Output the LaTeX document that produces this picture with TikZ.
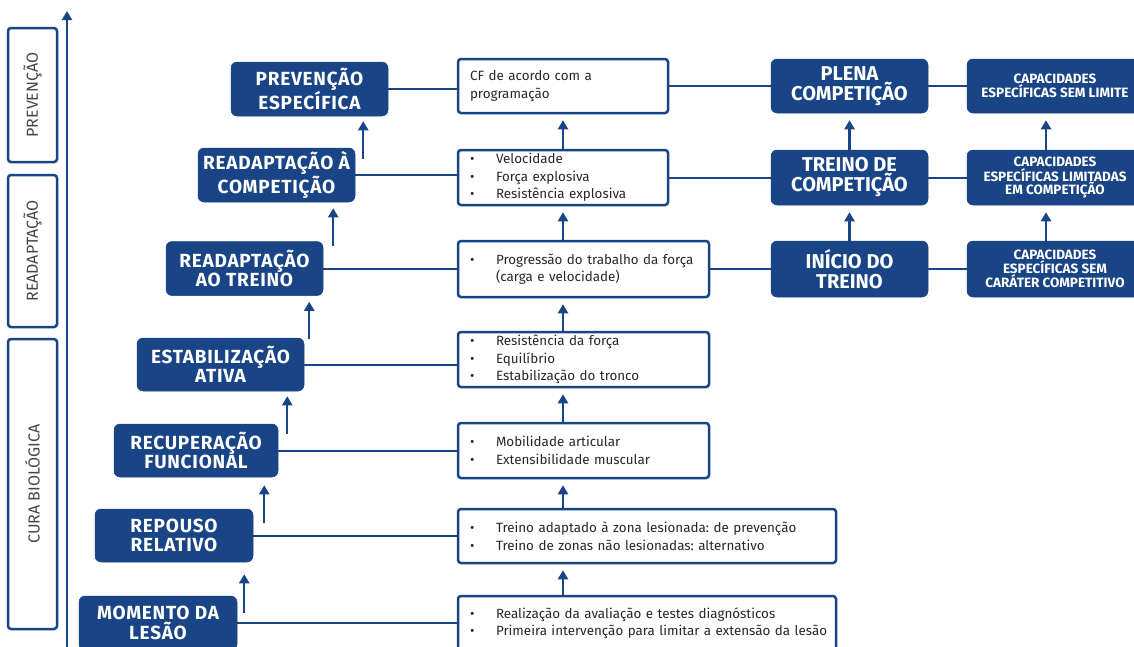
\documentclass[tikz,border=0pt]{standalone}
\usepackage{fontspec}
\setmainfont{Fira Sans}
\newfontfamily\boxfont[LetterSpace=4]{Fira Sans}
\newfontfamily\rightfont{Fira Sans}
\newfontfamily\capfont{Fira Sans}
\usetikzlibrary{arrows.meta,calc}
\definecolor{nblue}{RGB}{25,68,133}
\definecolor{tgray}{RGB}{40,40,40}
\definecolor{lgray}{RGB}{70,70,70}
\newcommand\bl[1]{\mbox{\makebox[26pt][l]{\textbullet}#1}}
\frenchspacing
\begin{document}
\begin{tikzpicture}[x=1pt,y=-1pt,
  bbox/.style={draw=nblue, fill=nblue, rounded corners=6pt, text=white, align=center,
    inner sep=0pt, line width=0.5pt, font=\boxfont\fontsize{19}{19.5}\selectfont\bfseries},
  rbox/.style={bbox, font=\rightfont\fontsize{20}{20}\selectfont\bfseries},
  cbox/.style={bbox, font=\capfont\fontsize{13.5}{13}\selectfont\bfseries},
  wbox/.style={draw=nblue, fill=white, rounded corners=3pt, line width=2.5pt, align=left,
    inner xsep=12pt, inner ysep=0pt, text=tgray, font=\fontsize{13.4}{17.5}\selectfont},
  lbox/.style={draw=nblue, rounded corners=3pt, line width=2.5pt, rotate=90, inner sep=0pt,
    text=lgray, font=\fontsize{16}{16}\selectfont, minimum height=49pt},
  conn/.style={draw=nblue, line width=2pt},
  arr/.style={draw=nblue, line width=2.4pt, -{Triangle[length=9pt,width=10pt]}}
]
\clip (0,0) rectangle (1134,646);
\fill[white] (0,0) rectangle (1134,646);

% side labels and axis
\node[lbox, minimum width=134pt] (L1) at (32.5,95) {PREVENÇÃO};
\node[lbox, minimum width=152pt] (L2) at (32.5,251) {READAPTAÇÃO};
\node[lbox, minimum width=290pt] (L3) at (32.5,484) {CURA BIOLÓGICA};
\coordinate (ax0) at (67,660);
\coordinate (ax1) at (67,11);
\draw[arr, line width=2pt] (ax0) -- (ax1);

% left stepped blue boxes
\node[bbox, minimum width=157pt, minimum height=54pt] (m1) at (309.5,89) {PREVENÇÃO\\ESPECÍFICA};
\node[bbox, minimum width=157pt, minimum height=54pt] (m2) at (276.5,175) {READAPTAÇÃO À\\COMPETIÇÃO};
\node[bbox, minimum width=157pt, minimum height=54pt] (m3) at (244.5,268.5) {READAPTAÇÃO\\AO TREINO};
\node[bbox, minimum width=167pt, minimum height=53pt] (m4) at (220.5,364.5) {ESTABILIZAÇÃO\\ATIVA};
\node[bbox, minimum width=164pt, minimum height=53pt] (m5) at (196,450.5) {RECUPERAÇÃO\\FUNCIONAL};
\node[bbox, minimum width=158pt, minimum height=53pt] (m6) at (174,535.5) {REPOUSO\\RELATIVO};
\node[bbox, minimum width=158pt, minimum height=54pt] (m7) at (158,623) {MOMENTO DA\\LESÃO};

% middle white boxes
\node[wbox, minimum width=210pt, minimum height=54pt, text width=186pt] (a1) at (563,86)
  {CF de acordo com a\\programação};
\node[wbox, minimum width=210pt, minimum height=55pt, text width=186pt] (a2) at (563,177.5)
  {\bl{Velocidade}\\\bl{Força explosiva}\\\bl{Resistência explosiva}};
\node[wbox, minimum width=251pt, minimum height=56pt, text width=227pt] (a3) at (583.5,269)
  {\bl{Progressão do trabalho da força}\\\mbox{\hspace*{26pt}(carga e velocidade)}};
\node[wbox, minimum width=251pt, minimum height=55pt, text width=227pt] (a4) at (583.5,359.5)
  {\bl{Resistência da força}\\\bl{Equilíbrio}\\\bl{Estabilização do tronco}};
\node[wbox, minimum width=251pt, minimum height=55pt, text width=227pt] (a5) at (583.5,450.5)
  {\bl{Mobilidade articular}\\\bl{Extensibilidade muscular}};
\node[wbox, minimum width=378pt, minimum height=54pt, text width=354pt] (a6) at (647,536)
  {\bl{Treino adaptado à zona lesionada: de prevenção}\\\bl{Treino de zonas não lesionadas: alternativo}};
\node[wbox, minimum width=378pt, minimum height=54pt, text width=354pt] (a7) at (647,623)
  {\bl{Realização da avaliação e testes diagnósticos}\\\bl{Primeira intervenção para limitar a extensão da lesão}};

% right blue boxes
\node[rbox, minimum width=157pt, minimum height=54pt] (p1) at (849.5,86) {PLENA\\COMPETIÇÃO};
\node[rbox, minimum width=157pt, minimum height=55pt] (p2) at (849.5,177.5) {TREINO DE\\COMPETIÇÃO};
\node[rbox, minimum width=157pt, minimum height=56pt] (p3) at (849.5,269) {INÍCIO DO\\TREINO};
\node[cbox, minimum width=176pt, minimum height=54pt] (c1) at (1055,86) {CAPACIDADES\\ESPECÍFICAS SEM LIMITE};
\node[cbox, minimum width=176pt, minimum height=55pt] (c2) at (1055,177.5) {CAPACIDADES\\ESPECÍFICAS LIMITADAS\\EM COMPETIÇÃO};
\node[cbox, minimum width=176pt, minimum height=56pt] (c3) at (1055,269) {CAPACIDADES\\ESPECÍFICAS SEM\\CARÁTER COMPETITIVO};

% horizontal connectors
\foreach \m/\a in {m1/a1,m2/a2,m3/a3,m4/a4,m5/a5,m6/a6,m7/a7}
  \draw[conn] (\m.east) -- (\m.east -| \a.west);
\foreach \a/\p/\c in {a1/p1/c1,a2/p2/c2,a3/p3/c3}{
  \draw[conn] (\a.east) -- (\a.east -| \p.west);
  \draw[conn] (\p.east) -- (\p.east -| \c.west);
}

% left arrows
\draw[arr] ($(m7.north east)+(7,17)$) -- ($(m7.north east |- m6.south)+(7,12)$);
\draw[arr] ($(m6.north east)+(11,14)$) -- ($(m6.north east |- m5.south)+(11,8)$);
\draw[arr] ($(m5.north east)+(9,10)$) -- ($(m5.north east |- m4.south)+(9,5)$);
\draw[arr] ($(m4.north east)+(5,1)$) -- ($(m4.north east |- m3.south)+(5,6)$);
\draw[arr] ($(m3.north east)+(10,5)$) -- ($(m3.north east |- m2.south)+(10,6)$);
\draw[arr] ($(m2.north east)+(8,11)$) -- ($(m2.north east |- m1.south)+(8,5)$);

% middle arrows
\foreach \lo/\up in {a7/a6,a6/a5,a5/a4,a4/a3,a3/a2,a2/a1}
  \draw[arr] (\lo.north -| a1.center) -- ($(\up.south -| a1.center)+(0,6)$);

% right arrows
\foreach \lo/\up in {p3/p2,p2/p1}
  \draw[arr] (\lo.north) -- ($(\up.south)+(0,7)$);
\foreach \lo/\up in {c3/c2,c2/c1}
  \draw[arr] ($(\lo.north)+(-9,0)$) -- ($(\up.south)+(-9,7)$);
\end{tikzpicture}
\end{document}
